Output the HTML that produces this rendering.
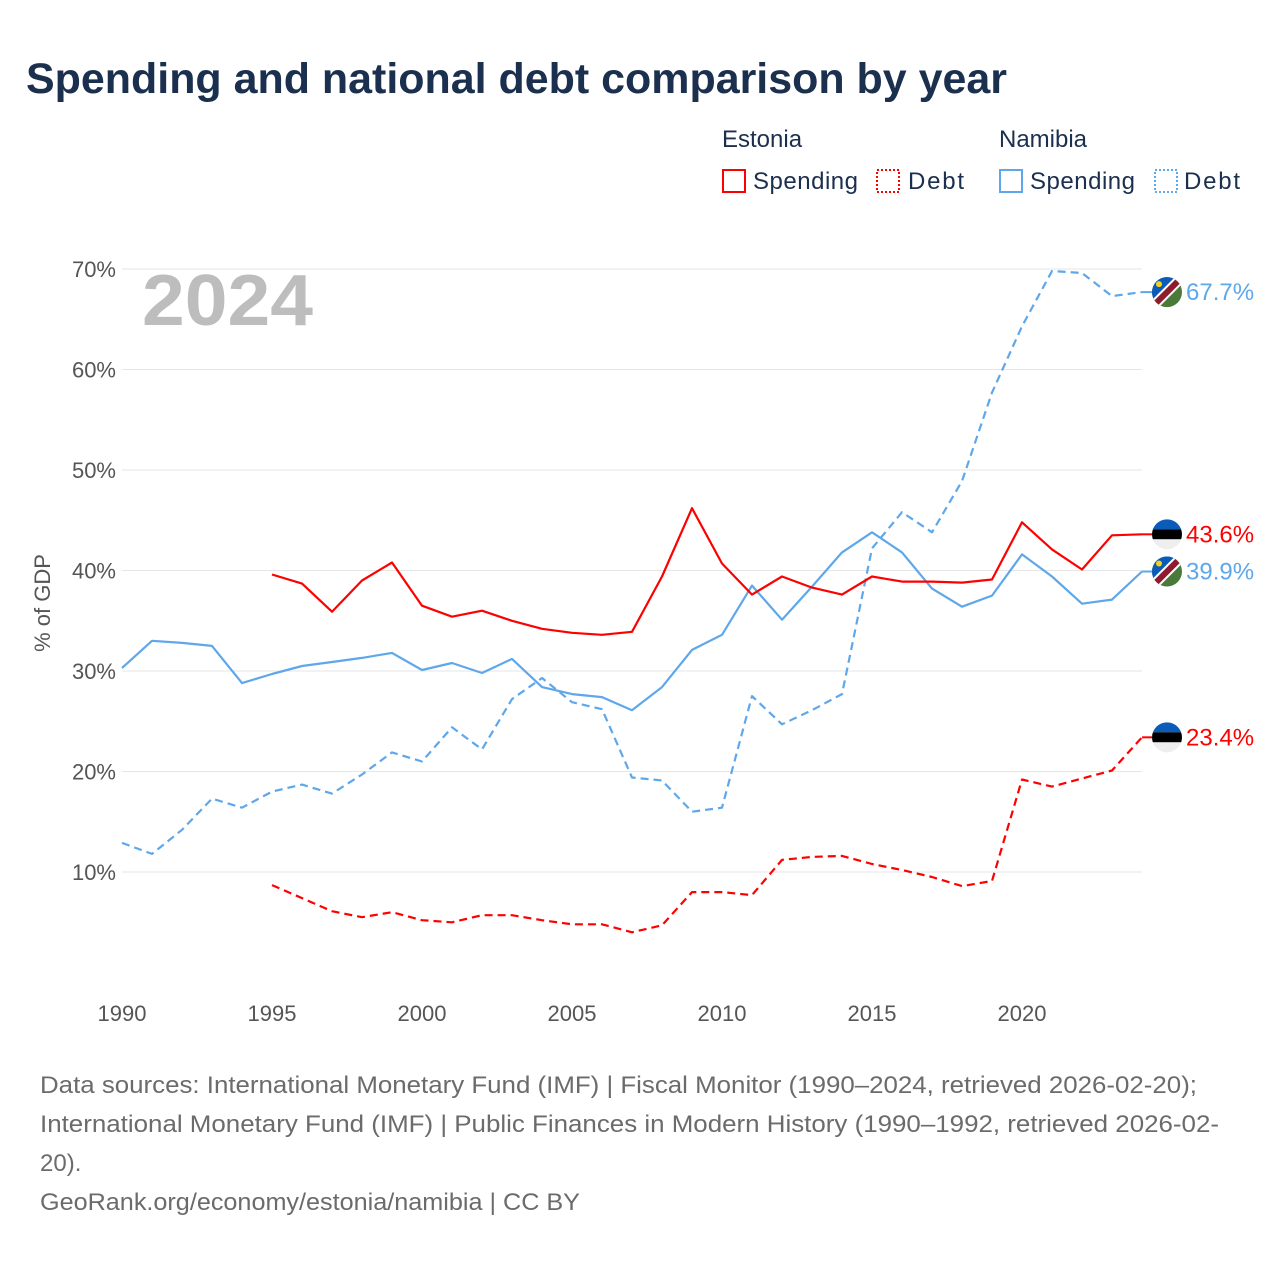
<!DOCTYPE html>
<html><head><meta charset="utf-8">
<style>
body{margin:0;background:#fff;width:1280px;height:1280px;overflow:hidden;font-family:"Liberation Sans",sans-serif;}
</style></head>
<body>
<svg id="chart" width="1280" height="1280" xmlns="http://www.w3.org/2000/svg" font-family="Liberation Sans, sans-serif">
<defs>
<clipPath id="cc"><circle cx="0" cy="0" r="15"/></clipPath>
<g id="flag-na"><g clip-path="url(#cc)"><rect x="-16" y="-16" width="32" height="32" fill="#4a7a3a"/><polygon points="-16,-16 16,-16 -16,16" fill="#0b5cb8"/><line x1="-18" y1="18" x2="18" y2="-18" stroke="#fff" stroke-width="10"/><line x1="-18" y1="18" x2="18" y2="-18" stroke="#8e1c2e" stroke-width="6"/><circle cx="-8" cy="-8" r="3" fill="#f7d117"/></g></g>
<g id="flag-ee"><g clip-path="url(#cc)"><rect x="-16" y="-16" width="32" height="11" fill="#0b5cb8"/><rect x="-16" y="-5" width="32" height="10" fill="#000"/><rect x="-16" y="5" width="32" height="11" fill="#eee"/></g></g>
</defs>
<text x="26" y="93" font-size="43" font-weight="bold" fill="#1b2f4e" textLength="981" lengthAdjust="spacingAndGlyphs">Spending and national debt comparison by year</text>
<g font-size="24" fill="#1b2f4e">
<text x="722" y="147">Estonia</text>
<text x="999" y="147">Namibia</text>
<g><rect x="723" y="170" width="22" height="22" fill="none" stroke="#ff0000" stroke-width="2"/><text x="753" y="189" textLength="105">Spending</text></g>
<g><rect x="877" y="170" width="22" height="22" fill="none" stroke="#ff0000" stroke-width="2" stroke-dasharray="2,2"/><text x="908" y="189" textLength="56">Debt</text></g>
<g><rect x="1000" y="170" width="22" height="22" fill="none" stroke="#5ea7ea" stroke-width="2"/><text x="1030" y="189" textLength="105">Spending</text></g>
<g><rect x="1155" y="170" width="22" height="22" fill="none" stroke="#5ea7ea" stroke-width="2" stroke-dasharray="2,2"/><text x="1184" y="189" textLength="56">Debt</text></g>
</g>
<g id="grid"></g>
<text x="142" y="325" font-size="72" font-weight="bold" fill="#bdbdbd" textLength="171" lengthAdjust="spacingAndGlyphs">2024</text>
<text transform="translate(50,603) rotate(-90)" text-anchor="middle" font-size="22" fill="#555">% of GDP</text>
<g id="series"></g>
<g id="labels"></g>
<g font-size="24" fill="#6b6b6b">
<text x="40" y="1093" textLength="1157" lengthAdjust="spacingAndGlyphs">Data sources: International Monetary Fund (IMF) | Fiscal Monitor (1990–2024, retrieved 2026-02-20);</text>
<text x="40" y="1132" textLength="1179" lengthAdjust="spacingAndGlyphs">International Monetary Fund (IMF) | Public Finances in Modern History (1990–1992, retrieved 2026-02-</text>
<text x="40" y="1171">20).</text>
<text x="40" y="1210" textLength="540" lengthAdjust="spacingAndGlyphs">GeoRank.org/economy/estonia/namibia | CC BY</text>
</g>
</svg>
<script>
const yTicks=[10,20,30,40,50,60,70];
const xTicks=[1990,1995,2000,2005,2010,2015,2020];
const yearsAll=[1990,1991,1992,1993,1994,1995,1996,1997,1998,1999,2000,2001,2002,2003,2004,2005,2006,2007,2008,2009,2010,2011,2012,2013,2014,2015,2016,2017,2018,2019,2020,2021,2022,2023,2024];
const yearsEE=yearsAll.slice(5);
const eeSpending=[39.6,38.7,35.9,39.0,40.8,36.5,35.4,36.0,35.0,34.2,33.8,33.6,33.9,39.4,46.2,40.7,37.6,39.4,38.3,37.6,39.4,38.9,38.9,38.8,39.1,44.8,42.1,40.1,43.5,43.6];
const eeDebt=[8.7,7.4,6.1,5.5,6.0,5.2,5.0,5.7,5.7,5.2,4.8,4.8,4.0,4.7,8.0,8.0,7.7,11.2,11.5,11.6,10.8,10.2,9.5,8.6,9.1,19.2,18.5,19.3,20.1,23.4];
const naSpending=[30.3,33.0,32.8,32.5,28.8,29.7,30.5,30.9,31.3,31.8,30.1,30.8,29.8,31.2,28.4,27.7,27.4,26.1,28.4,32.1,33.6,38.5,35.1,38.4,41.8,43.8,41.8,38.2,36.4,37.5,41.6,39.4,36.7,37.1,39.9];
const naDebt=[12.9,11.8,14.2,17.3,16.4,18.0,18.7,17.8,19.7,21.9,21.0,24.4,22.2,27.2,29.3,26.9,26.2,19.4,19.1,16.0,16.4,27.5,24.7,26.1,27.7,42.2,45.8,43.8,48.9,57.7,64.3,69.8,69.6,67.3,67.7];

const NS='http://www.w3.org/2000/svg';
const X=y=>122+(y-1990)*30;
const Y=v=>972.5-v*10.05;
function mk(t,a,p){const e=document.createElementNS(NS,t);for(const k in a)e.setAttribute(k,a[k]);p.appendChild(e);return e;}
const grid=document.getElementById('grid');
yTicks.forEach(v=>{
  const l=mk('line',{x1:122,x2:1142,y1:Y(v),y2:Y(v),stroke:'#e6e6e6','stroke-width':1},grid);
  
  
  const t=mk('text',{x:116,y:Y(v)+8,'text-anchor':'end','font-size':22,fill:'#555'},grid);
  t.textContent=v+'%';
  
  
});
xTicks.forEach(y=>{
  const t=mk('text',{x:X(y),y:1021,'text-anchor':'middle','font-size':22,fill:'#555'},grid);
  t.textContent=y;
  
  
});
const series=document.getElementById('series');
function line(years,vals,color,dash,name){
  const d=vals.map((v,i)=>(i?'L':'M')+X(years[i]).toFixed(1)+','+Y(v).toFixed(1)).join(' ');
  const p=mk('path',{d:d,fill:'none',stroke:color,'stroke-width':2.2,'stroke-linejoin':'round'},series);
  if(dash)p.setAttribute('stroke-dasharray','8,5');
  
  
}
line(yearsAll,naDebt,'#5ea7ea',true,'namibia-debt-line');
line(yearsAll,naSpending,'#5ea7ea',false,'namibia-spending-line');
line(yearsEE,eeDebt,'#ff0000',true,'estonia-debt-line');
line(yearsEE,eeSpending,'#ff0000',false,'estonia-spending-line');
const labels=document.getElementById('labels');
function endLabel(v,color,flag,name){
  const g=mk('g',{},labels);
  
  
  mk('line',{x1:1142,x2:1152,y1:Y(v),y2:Y(v),stroke:color,'stroke-width':2},g);
  mk('use',{href:'#'+flag,transform:'translate(1167,'+Y(v)+')'},g);
  const t=mk('text',{x:1186,y:Y(v)+8,'font-size':24,fill:color},g);
  t.textContent=v.toFixed(1)+'%';
}
endLabel(naDebt[naDebt.length-1],'#5ea7ea','flag-na','namibia-debt-end-label');
endLabel(eeSpending[eeSpending.length-1],'#ff0000','flag-ee','estonia-spending-end-label');
endLabel(naSpending[naSpending.length-1],'#5ea7ea','flag-na','namibia-spending-end-label');
endLabel(eeDebt[eeDebt.length-1],'#ff0000','flag-ee','estonia-debt-end-label');
</script>
</body></html>
